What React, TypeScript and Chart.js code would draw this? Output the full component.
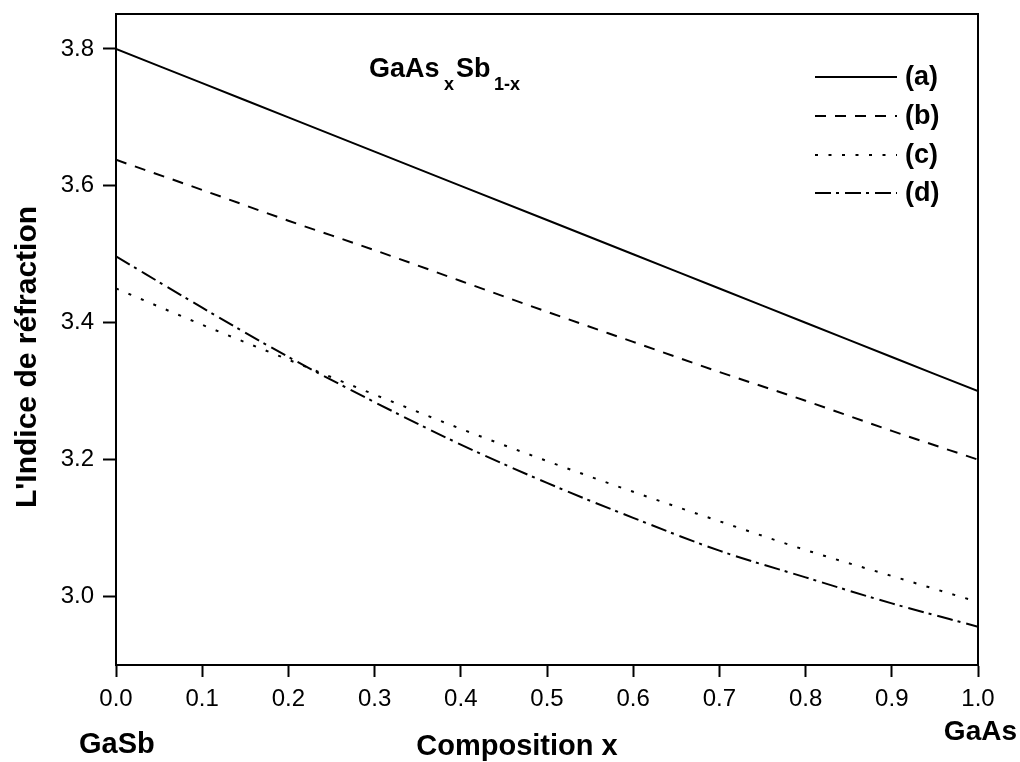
import React, { useEffect, useRef } from "react";
import { Chart, registerables } from "chart.js";

Chart.register(...registerables);

const xValues = [0, 0.1, 0.2, 0.3, 0.4, 0.5, 0.6, 0.7, 0.8, 0.9, 1.0];
const seriesA = [3.8, 3.75, 3.7, 3.65, 3.6, 3.55, 3.5, 3.45, 3.4, 3.35, 3.3];
const seriesB = [3.638, 3.594, 3.549, 3.506, 3.461, 3.416, 3.372, 3.328, 3.286, 3.242, 3.2];
const seriesC = [3.45, 3.397, 3.346, 3.295, 3.245, 3.198, 3.153, 3.11, 3.068, 3.03, 2.992];
const seriesD = [3.497, 3.422, 3.35, 3.284, 3.222, 3.166, 3.115, 3.067, 3.028, 2.99, 2.956];
const seriesLabels = ["(a)", "(b)", "(c)", "(d)"];
const xTicks = [0, 0.1, 0.2, 0.3, 0.4, 0.5, 0.6, 0.7, 0.8, 0.9, 1.0];
const yTicks = [3.0, 3.2, 3.4, 3.6, 3.8];

const FONT = "'Liberation Sans', Arial, Helvetica, sans-serif";
const dashes: number[][] = [[], [11, 9], [3, 10.5], [16, 5, 3, 6]];

const overlay = {
  id: "overlay",
  afterDraw(chart: any) {
    const ctx = chart.ctx;
    const { left, right, top, bottom } = chart.chartArea;
    ctx.save();
    ctx.strokeStyle = "#000";
    ctx.lineWidth = 2;
    ctx.setLineDash([]);
    ctx.strokeRect(left, top, right - left, bottom - top);

    // legend
    const rowY = [77, 116, 155, 193];
    chart.data.datasets.forEach((ds: any, i: number) => {
      ctx.beginPath();
      ctx.setLineDash(ds.borderDash || []);
      ctx.lineWidth = 2;
      ctx.moveTo(815, rowY[i]);
      ctx.lineTo(897, rowY[i]);
      ctx.stroke();
      ctx.setLineDash([]);
      ctx.fillStyle = "#000";
      ctx.font = `bold 27px ${FONT}`;
      ctx.textAlign = "left";
      ctx.textBaseline = "middle";
      ctx.fillText(ds.label, 905, rowY[i] + 1);
    });

    // compound title GaAs_x Sb_1-x
    ctx.textBaseline = "alphabetic";
    ctx.textAlign = "left";
    ctx.fillStyle = "#000";
    const base = 77;
    ctx.font = `bold 27px ${FONT}`;
    ctx.fillText("GaAs", 369, base);
    ctx.font = `bold 18px ${FONT}`;
    ctx.fillText("x", 444, base + 13);
    ctx.font = `bold 27px ${FONT}`;
    ctx.fillText("Sb", 456, base);
    ctx.font = `bold 18px ${FONT}`;
    ctx.fillText("1-x", 494, base + 13);

    // endpoint labels
    ctx.font = `bold 29px ${FONT}`;
    ctx.textAlign = "left";
    ctx.fillText("GaSb", 79, 753);
    ctx.font = `bold 28px ${FONT}`;
    ctx.textAlign = "right";
    ctx.fillText("GaAs", 1017, 740);

    // axis titles
    ctx.font = `bold 29px ${FONT}`;
    ctx.textAlign = "center";
    ctx.fillText("Composition x", 517, 755);

    ctx.save();
    ctx.translate(36, 357);
    ctx.rotate(-Math.PI / 2);
    ctx.font = `bold 30px ${FONT}`;
    ctx.textAlign = "center";
    ctx.fillText("L'Indice de réfraction", 0, 0);
    ctx.restore();

    ctx.restore();
  },
};

export default function App() {
  const ref = useRef<HTMLCanvasElement | null>(null);
  useEffect(() => {
    if (!ref.current) return;
    const all = [seriesA, seriesB, seriesC, seriesD];
    const chart = new Chart(ref.current, {
      type: "line",
      data: {
        datasets: all.map((s, i) => ({
          label: seriesLabels[i],
          data: xValues.map((xv, j) => ({ x: xv, y: s[j] })),
          borderColor: "#000",
          backgroundColor: "#000",
          borderWidth: 2,
          borderDash: dashes[i],
          pointRadius: 0,
          cubicInterpolationMode: "monotone" as const,
          fill: false,
        })),
      },
      options: {
        responsive: false,
        animation: false,
        layout: { padding: { top: 14, right: 42, bottom: 0, left: 0 } },
        plugins: {
          legend: { display: false },
          tooltip: { enabled: false },
        },
        scales: {
          x: {
            type: "linear",
            min: 0,
            max: 1,
            afterBuildTicks: (s: any) => {
              s.ticks = xTicks.map((v) => ({ value: v }));
            },
            afterFit: (s: any) => {
              s.height = 97;
              s.paddingLeft = 0;
              s.paddingRight = 0;
            },
            ticks: {
              color: "#000",
              font: { family: FONT, size: 24 },
              padding: 8,
              maxRotation: 0,
              callback: (v: any) => Number(v).toFixed(1),
            },
            grid: {
              drawOnChartArea: false,
              drawTicks: true,
              tickLength: 12,
              tickWidth: 2,
              tickColor: "#000",
            },
            border: { display: true, color: "#000", width: 2 },
          },
          y: {
            type: "linear",
            min: 2.9,
            max: 3.851,
            afterBuildTicks: (s: any) => {
              s.ticks = yTicks.map((v) => ({ value: v }));
            },
            afterFit: (s: any) => {
              s.width = 116;
              s.paddingTop = 0;
              s.paddingBottom = 0;
            },
            ticks: {
              color: "#000",
              font: { family: FONT, size: 24 },
              padding: 9,
              callback: (v: any) => Number(v).toFixed(1),
            },
            grid: {
              drawOnChartArea: false,
              drawTicks: true,
              tickLength: 13,
              tickWidth: 2,
              tickColor: "#000",
            },
            border: { display: true, color: "#000", width: 2 },
          },
        },
      },
      plugins: [overlay],
    });
    return () => chart.destroy();
  }, []);
  return (
    <div style={{ position: "absolute", left: 0, top: 0, width: 1020, height: 762, background: "#fff" }}>
      <canvas ref={ref} width={1020} height={762} style={{ display: "block" }} />
    </div>
  );
}
